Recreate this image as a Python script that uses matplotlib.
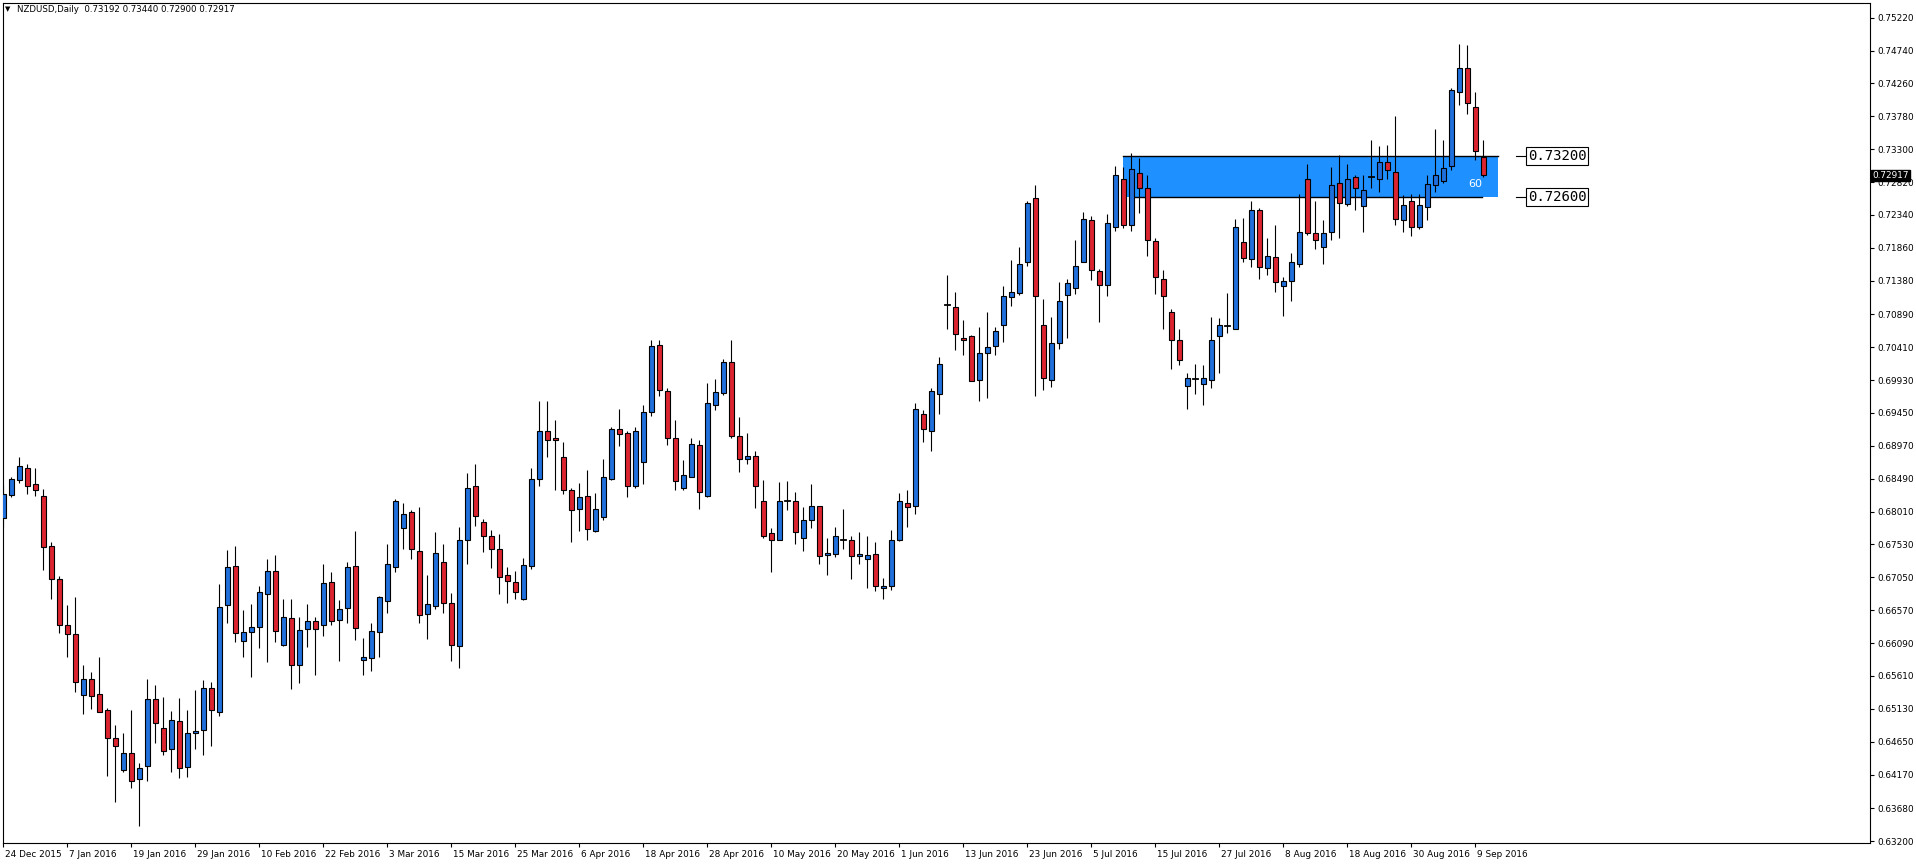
import matplotlib
matplotlib.use('Agg')
import matplotlib.pyplot as plt
from matplotlib.patches import Rectangle
import matplotlib.transforms as mtransforms

# daily NZDUSD candles, 24 Dec 2015 .. 12 Sep 2016
opens = [0.6791, 0.6825, 0.6847, 0.6864, 0.6841, 0.6823, 0.6750, 0.6703, 0.6636, 0.6622,
         0.6533, 0.6557, 0.6534, 0.6511, 0.6471, 0.6423, 0.6448, 0.6410, 0.6429, 0.6527,
         0.6485, 0.6454, 0.6495, 0.6428, 0.6477, 0.6482, 0.6544, 0.6509, 0.6664, 0.6721,
         0.6612, 0.6625, 0.6633, 0.6680, 0.6714, 0.6606, 0.6645, 0.6577, 0.6629, 0.6641,
         0.6636, 0.6698, 0.6642, 0.6660, 0.6721, 0.6584, 0.6587, 0.6625, 0.6670, 0.6720,
         0.6777, 0.6800, 0.6743, 0.6651, 0.6663, 0.6728, 0.6667, 0.6604, 0.6759, 0.6839,
         0.6785, 0.6765, 0.6746, 0.6708, 0.6698, 0.6673, 0.6721, 0.6848, 0.6918, 0.6909,
         0.6880, 0.6832, 0.6804, 0.6823, 0.6772, 0.6793, 0.6848, 0.6921, 0.6915, 0.6838,
         0.6874, 0.6946, 0.7044, 0.6977, 0.6908, 0.6835, 0.6852, 0.6898, 0.6823, 0.6956,
         0.6974, 0.7019, 0.6912, 0.6877, 0.6882, 0.6817, 0.6769, 0.6760, 0.6817, 0.6816,
         0.6763, 0.6788, 0.6809, 0.6737, 0.6739, 0.6760, 0.6759, 0.6736, 0.6731, 0.6739,
         0.6689, 0.6692, 0.6760, 0.6813, 0.6809, 0.6944, 0.6918, 0.6972, 0.7102, 0.7099,
         0.7055, 0.7057, 0.6993, 0.7033, 0.7042, 0.7074, 0.7114, 0.7120, 0.7166, 0.7258,
         0.7073, 0.6993, 0.7047, 0.7117, 0.7128, 0.7166, 0.7226, 0.7152, 0.7131, 0.7217,
         0.7287, 0.7220, 0.7295, 0.7274, 0.7196, 0.7140, 0.7093, 0.7051, 0.6984, 0.6995,
         0.6987, 0.6993, 0.7057, 0.7072, 0.7068, 0.7194, 0.7169, 0.7241, 0.7156, 0.7172,
         0.7130, 0.7137, 0.7163, 0.7287, 0.7207, 0.7187, 0.7209, 0.7280, 0.7250, 0.7290,
         0.7247, 0.7290, 0.7287, 0.7311, 0.7296, 0.7226, 0.7254, 0.7216, 0.7246, 0.7277,
         0.7284, 0.7305, 0.7413, 0.7449, 0.7392, 0.73192]
highs = [0.6840, 0.6851, 0.6881, 0.6870, 0.6865, 0.6834, 0.6757, 0.6707, 0.6665, 0.6676,
         0.6577, 0.6567, 0.6589, 0.6514, 0.6489, 0.6478, 0.6511, 0.6434, 0.6557, 0.6548,
         0.6530, 0.6510, 0.6529, 0.6511, 0.6540, 0.6555, 0.6552, 0.6695, 0.6745, 0.6751,
         0.6657, 0.6666, 0.6692, 0.6732, 0.6738, 0.6673, 0.6673, 0.6647, 0.6666, 0.6647,
         0.6724, 0.6712, 0.6672, 0.6727, 0.6773, 0.6617, 0.6638, 0.6677, 0.6754, 0.6819,
         0.6814, 0.6803, 0.6807, 0.6708, 0.6771, 0.6753, 0.6682, 0.6779, 0.6857, 0.6871,
         0.6790, 0.6774, 0.6768, 0.6720, 0.6714, 0.6733, 0.6864, 0.6963, 0.6963, 0.6934,
         0.6902, 0.6836, 0.6842, 0.6861, 0.6828, 0.6877, 0.6924, 0.6950, 0.6918, 0.6925,
         0.6956, 0.7052, 0.7052, 0.6982, 0.6934, 0.6876, 0.6908, 0.6905, 0.6988, 0.6995,
         0.7023, 0.7052, 0.6939, 0.6915, 0.6889, 0.6847, 0.6777, 0.6844, 0.6845, 0.6829,
         0.6807, 0.6841, 0.6809, 0.6763, 0.6779, 0.6804, 0.6766, 0.6771, 0.6765, 0.6756,
         0.6704, 0.6774, 0.6828, 0.6832, 0.6959, 0.6949, 0.6981, 0.7026, 0.7146, 0.7121,
         0.7080, 0.7058, 0.7070, 0.7092, 0.7071, 0.7130, 0.7168, 0.7187, 0.7254, 0.7277,
         0.7112, 0.7085, 0.7136, 0.7140, 0.7197, 0.7239, 0.7233, 0.7155, 0.7235, 0.7306,
         0.7304, 0.7324, 0.7317, 0.7293, 0.7200, 0.7153, 0.7096, 0.7067, 0.7003, 0.7016,
         0.7015, 0.7085, 0.7083, 0.7120, 0.7228, 0.7229, 0.7255, 0.7244, 0.7200, 0.7219,
         0.7143, 0.7179, 0.7264, 0.7308, 0.7254, 0.7226, 0.7304, 0.7321, 0.7309, 0.7292,
         0.7293, 0.7343, 0.7334, 0.7336, 0.7379, 0.7263, 0.7264, 0.7264, 0.7293, 0.7359,
         0.7343, 0.7420, 0.7484, 0.7482, 0.7413, 0.73440]
lows = [0.6779, 0.6822, 0.6842, 0.6827, 0.6823, 0.6716, 0.6674, 0.6623, 0.6588, 0.6538,
        0.6506, 0.6512, 0.6509, 0.6415, 0.6377, 0.6421, 0.6398, 0.6342, 0.6407, 0.6463,
        0.6446, 0.6421, 0.6412, 0.6414, 0.6455, 0.6445, 0.6458, 0.6503, 0.6639, 0.6611,
        0.6589, 0.6560, 0.6602, 0.6582, 0.6610, 0.6604, 0.6542, 0.6550, 0.6603, 0.6562,
        0.6619, 0.6635, 0.6583, 0.6639, 0.6614, 0.6562, 0.6568, 0.6589, 0.6653, 0.6712,
        0.6747, 0.6731, 0.6639, 0.6615, 0.6658, 0.6653, 0.6583, 0.6572, 0.6725, 0.6780,
        0.6742, 0.6718, 0.6680, 0.6668, 0.6673, 0.6672, 0.6717, 0.6839, 0.6880, 0.6832,
        0.6826, 0.6756, 0.6772, 0.6760, 0.6771, 0.6788, 0.6847, 0.6896, 0.6822, 0.6835,
        0.6841, 0.6940, 0.6969, 0.6898, 0.6832, 0.6833, 0.6851, 0.6804, 0.6822, 0.6949,
        0.6971, 0.6909, 0.6858, 0.6870, 0.6806, 0.6762, 0.6713, 0.6759, 0.6803, 0.6753,
        0.6744, 0.6777, 0.6725, 0.6708, 0.6734, 0.6746, 0.6703, 0.6724, 0.6690, 0.6685,
        0.6673, 0.6686, 0.6758, 0.6778, 0.6798, 0.6902, 0.6890, 0.6944, 0.7068, 0.7037,
        0.7029, 0.6991, 0.6962, 0.6967, 0.7030, 0.7049, 0.7101, 0.7117, 0.7159, 0.6969,
        0.6978, 0.6983, 0.7039, 0.7055, 0.7118, 0.7166, 0.7139, 0.7078, 0.7115, 0.7210,
        0.7215, 0.7210, 0.7237, 0.7174, 0.7118, 0.7067, 0.7009, 0.7015, 0.6950, 0.6972,
        0.6956, 0.6982, 0.7003, 0.7061, 0.7067, 0.7166, 0.7158, 0.7140, 0.7146, 0.7121,
        0.7086, 0.7109, 0.7158, 0.7204, 0.7184, 0.7163, 0.7198, 0.7201, 0.7247, 0.7241,
        0.7209, 0.7273, 0.7268, 0.7286, 0.7220, 0.7209, 0.7203, 0.7214, 0.7226, 0.7267,
        0.7281, 0.7300, 0.7395, 0.7382, 0.7314, 0.72900]
closes = [0.6827, 0.6848, 0.6867, 0.6839, 0.6833, 0.6749, 0.6702, 0.6635, 0.6622, 0.6552,
          0.6557, 0.6531, 0.6509, 0.6470, 0.6458, 0.6448, 0.6407, 0.6426, 0.6527, 0.6492,
          0.6452, 0.6496, 0.6426, 0.6477, 0.6480, 0.6544, 0.6511, 0.6661, 0.6720, 0.6623,
          0.6625, 0.6632, 0.6683, 0.6714, 0.6626, 0.6647, 0.6577, 0.6628, 0.6641, 0.6630,
          0.6696, 0.6641, 0.6658, 0.6720, 0.6631, 0.6588, 0.6626, 0.6676, 0.6724, 0.6816,
          0.6798, 0.6746, 0.6650, 0.6666, 0.6741, 0.6668, 0.6606, 0.6759, 0.6835, 0.6794,
          0.6766, 0.6746, 0.6706, 0.6699, 0.6683, 0.6723, 0.6848, 0.6918, 0.6906, 0.6905,
          0.6832, 0.6803, 0.6822, 0.6775, 0.6804, 0.6852, 0.6921, 0.6914, 0.6838, 0.6918,
          0.6946, 0.7042, 0.6978, 0.6909, 0.6845, 0.6854, 0.6899, 0.6830, 0.6960, 0.6975,
          0.7020, 0.6911, 0.6877, 0.6882, 0.6838, 0.6766, 0.6760, 0.6816, 0.6817, 0.6771,
          0.6788, 0.6809, 0.6736, 0.6740, 0.6765, 0.6760, 0.6736, 0.6739, 0.6737, 0.6693,
          0.6692, 0.6760, 0.6816, 0.6807, 0.6950, 0.6921, 0.6977, 0.7017, 0.7102, 0.7060,
          0.7052, 0.6991, 0.7032, 0.7041, 0.7064, 0.7115, 0.7121, 0.7163, 0.7251, 0.7115,
          0.6996, 0.7047, 0.7108, 0.7134, 0.7159, 0.7228, 0.7153, 0.7131, 0.7222, 0.7292,
          0.7219, 0.7301, 0.7274, 0.7198, 0.7143, 0.7115, 0.7051, 0.7022, 0.6996, 0.6995,
          0.6996, 0.7052, 0.7074, 0.7072, 0.7216, 0.7171, 0.7241, 0.7158, 0.7174, 0.7136,
          0.7137, 0.7165, 0.7209, 0.7207, 0.7198, 0.7207, 0.7277, 0.7251, 0.7286, 0.7274,
          0.7271, 0.7290, 0.7311, 0.7299, 0.7228, 0.7248, 0.7217, 0.7248, 0.7279, 0.7292,
          0.7303, 0.7416, 0.7449, 0.7397, 0.7327, 0.72917]

# one label every 8 bars
date_labels = ['24 Dec 2015', '7 Jan 2016', '19 Jan 2016', '29 Jan 2016', '10 Feb 2016',
               '22 Feb 2016', '3 Mar 2016', '15 Mar 2016', '25 Mar 2016', '6 Apr 2016',
               '18 Apr 2016', '28 Apr 2016', '10 May 2016', '20 May 2016', '1 Jun 2016',
               '13 Jun 2016', '23 Jun 2016', '5 Jul 2016', '15 Jul 2016', '27 Jul 2016',
               '8 Aug 2016', '18 Aug 2016', '30 Aug 2016', '9 Sep 2016']
price_ticks = [0.75220, 0.74740, 0.74260, 0.73780, 0.73300, 0.72820, 0.72340, 0.71860,
               0.71380, 0.70890, 0.70410, 0.69930, 0.69450, 0.68970, 0.68490, 0.68010,
               0.67530, 0.67050, 0.66570, 0.66090, 0.65610, 0.65130, 0.64650, 0.64170,
               0.63680, 0.63200]

# supply zone drawn on the chart
zone_top = 0.73200
zone_bottom = 0.72600
zone_label = '60'

bull_color = '#1f6fdc'
bear_color = '#dc2430'
zone_color = '#1e90ff'
font = 'DejaVu Sans'
tick_fs = 6.4


def plotter():
    fig = plt.figure(figsize=(19.16, 8.66), dpi=100)
    ax = fig.add_axes([2.7 / 1916, 23 / 866, (1870 - 2.7) / 1916, 840 / 866])

    n = len(opens)
    xs = list(range(n))

    # zone first so candles sit on top
    ax.add_patch(Rectangle((139.96, zone_bottom), 186.9 - 139.96, zone_top - zone_bottom,
                           facecolor=zone_color, edgecolor='none', zorder=1))
    ax.plot([139.96, 186.9], [zone_top, zone_top], color='black', lw=1.0, zorder=1.5)
    ax.plot([140.96, 184.9], [zone_bottom, zone_bottom], color='black', lw=1.0, zorder=1.5)
    ax.text(184.0, 0.72791, zone_label, color='white', fontsize=8, ha='center', va='center',
            family=font, zorder=4)

    # candles
    ax.vlines(xs, lows, highs, color='black', lw=0.8, zorder=2)
    for i in range(n):
        o, c = opens[i], closes[i]
        if abs(c - o) < 1e-6:
            ax.plot([i - 0.3, i + 0.3], [o, o], color='black', lw=1.3, zorder=3)
            continue
        col = bull_color if c > o else bear_color
        ax.add_patch(Rectangle((i - 0.28, min(o, c)), 0.56, abs(c - o),
                               facecolor=col, edgecolor='black', lw=0.8, zorder=3))

    # level labels to the right of the zone
    for lvl in (zone_top, zone_bottom):
        ax.plot([189.1, 190.5], [lvl, lvl], color='black', lw=0.8)
        ax.text(190.6, lvl, '%.5f' % lvl, fontsize=10.1, family='DejaVu Sans Mono',
                ha='left', va='center',
                bbox=dict(boxstyle='square,pad=0.12', fc='white', ec='black', lw=0.8))

    ax.set_xlim(-0.075, 233.34)
    ax.set_ylim(0.63171, 0.75434)

    # right price axis
    ax.yaxis.tick_right()
    ax.set_yticks(price_ticks)
    ax.set_yticklabels(['%.5f' % p for p in price_ticks], fontsize=tick_fs, family=font)
    ax.tick_params(axis='y', length=3, width=0.8, pad=2, colors='black')

    # bottom date axis
    ax.set_xticks(list(range(0, 8 * len(date_labels), 8)))
    ax.set_xticklabels(date_labels, fontsize=6.4, family=font, ha='left')
    ax.tick_params(axis='x', length=3, width=0.8, pad=2)
    offset = mtransforms.ScaledTranslation(2 / 100, 0, fig.dpi_scale_trans)
    for lab in ax.get_xticklabels():
        lab.set_transform(lab.get_transform() + offset)

    for sp in ax.spines.values():
        sp.set_linewidth(0.8)

    # current price marker on the axis
    ax.annotate('%.5f' % closes[-1], xy=(1.0, closes[-1]), xycoords=('axes fraction', 'data'),
                xytext=(1.5, 0), textcoords='offset points', fontsize=tick_fs, family=font,
                color='white', ha='left', va='center', annotation_clip=False, zorder=10,
                bbox=dict(boxstyle='square,pad=0.15', fc='black', ec='black'))

    # header
    fig.text(5 / 1916, 1 - 9 / 866, '\u25bc', fontsize=5, va='center', ha='left', family=font)
    fig.text(17 / 1916, 1 - 9 / 866, 'NZDUSD,Daily  %.5f %.5f %.5f %.5f'
             % (opens[-1], highs[-1], lows[-1], closes[-1]),
             fontsize=6.2, va='center', ha='left', family=font)

    plt.savefig('out.png', dpi=100)


if __name__ == '__main__':
    plotter()
